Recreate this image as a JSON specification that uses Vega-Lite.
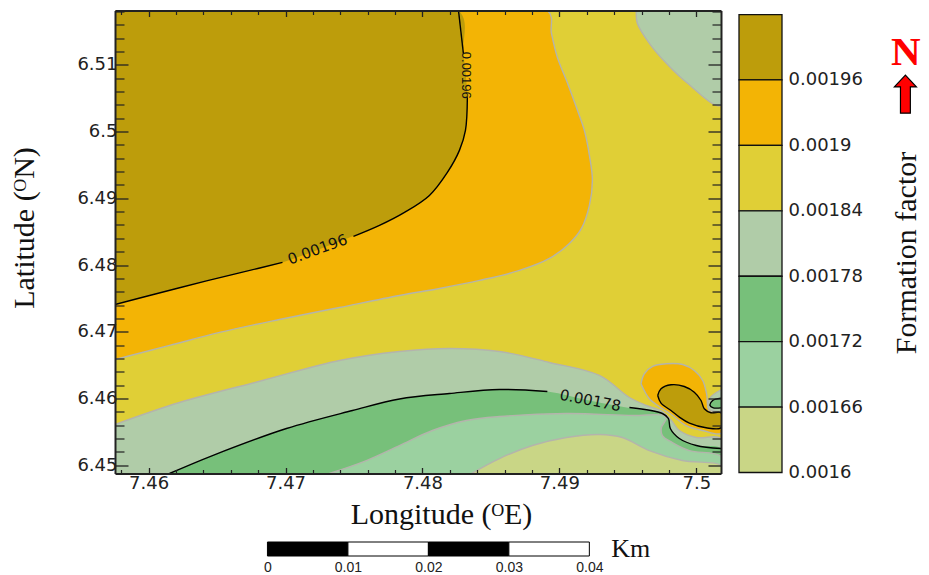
{
"$schema":"https://vega.github.io/schema/vega-lite/v6.json",
"background":"white",
"padding":{"left":9,"top":9.5,"right":0,"bottom":0},
"columns":2,
"align":"each",
"spacing":{"column":16,"row":6.5},
"resolve":{"scale":{"fill":"independent","stroke":"independent"}},
"config":{"view":{"stroke":null}},
"datasets":{
"regions":[
{"band":"0.00184","part":"base","contour":"none","seq":1,"lon":7.45755,"lat":6.51814},
{"band":"0.00184","part":"base","contour":"none","seq":2,"lon":7.5018,"lat":6.51814},
{"band":"0.00184","part":"base","contour":"none","seq":3,"lon":7.5018,"lat":6.44876},
{"band":"0.00184","part":"base","contour":"none","seq":4,"lon":7.45755,"lat":6.44876},
{"band":"0.0019","part":"orangeMain","contour":"gray","seq":1,"lon":7.45755,"lat":6.51814},
{"band":"0.0019","part":"orangeMain","contour":"gray","seq":2,"lon":7.48912,"lat":6.51814},
{"band":"0.0019","part":"orangeMain","contour":"gray","seq":3,"lon":7.48942,"lat":6.51472},
{"band":"0.0019","part":"orangeMain","contour":"gray","seq":4,"lon":7.48985,"lat":6.51112},
{"band":"0.0019","part":"orangeMain","contour":"gray","seq":5,"lon":7.49051,"lat":6.50768},
{"band":"0.0019","part":"orangeMain","contour":"gray","seq":6,"lon":7.49124,"lat":6.50363},
{"band":"0.0019","part":"orangeMain","contour":"gray","seq":7,"lon":7.49182,"lat":6.50018},
{"band":"0.0019","part":"orangeMain","contour":"gray","seq":8,"lon":7.49219,"lat":6.49643},
{"band":"0.0019","part":"orangeMain","contour":"gray","seq":9,"lon":7.49241,"lat":6.49268},
{"band":"0.0019","part":"orangeMain","contour":"gray","seq":10,"lon":7.49219,"lat":6.48894},
{"band":"0.0019","part":"orangeMain","contour":"gray","seq":11,"lon":7.49161,"lat":6.48549},
{"band":"0.0019","part":"orangeMain","contour":"gray","seq":12,"lon":7.49073,"lat":6.48324},
{"band":"0.0019","part":"orangeMain","contour":"gray","seq":13,"lon":7.48927,"lat":6.48099},
{"band":"0.0019","part":"orangeMain","contour":"gray","seq":14,"lon":7.48708,"lat":6.47919},
{"band":"0.0019","part":"orangeMain","contour":"gray","seq":15,"lon":7.48416,"lat":6.47769},
{"band":"0.0019","part":"orangeMain","contour":"gray","seq":16,"lon":7.48124,"lat":6.47649},
{"band":"0.0019","part":"orangeMain","contour":"gray","seq":17,"lon":7.47832,"lat":6.47544},
{"band":"0.0019","part":"orangeMain","contour":"gray","seq":18,"lon":7.47394,"lat":6.47364},
{"band":"0.0019","part":"orangeMain","contour":"gray","seq":19,"lon":7.46956,"lat":6.47184},
{"band":"0.0019","part":"orangeMain","contour":"gray","seq":20,"lon":7.46518,"lat":6.4699},
{"band":"0.0019","part":"orangeMain","contour":"gray","seq":21,"lon":7.46153,"lat":6.46795},
{"band":"0.0019","part":"orangeMain","contour":"gray","seq":22,"lon":7.45755,"lat":6.46585},
{"band":"0.00196","part":"oliveMain","contour":"none","seq":1,"lon":7.45755,"lat":6.51814},
{"band":"0.00196","part":"oliveMain","contour":"none","seq":2,"lon":7.48263,"lat":6.51814},
{"band":"0.00196","part":"oliveMain","contour":"none","seq":3,"lon":7.48299,"lat":6.51172},
{"band":"0.00196","part":"oliveMain","contour":"none","seq":4,"lon":7.48328,"lat":6.50513},
{"band":"0.00196","part":"oliveMain","contour":"none","seq":5,"lon":7.48314,"lat":6.50018},
{"band":"0.00196","part":"oliveMain","contour":"none","seq":6,"lon":7.4827,"lat":6.49718},
{"band":"0.00196","part":"oliveMain","contour":"none","seq":7,"lon":7.48182,"lat":6.49388},
{"band":"0.00196","part":"oliveMain","contour":"none","seq":8,"lon":7.48051,"lat":6.49043},
{"band":"0.00196","part":"oliveMain","contour":"none","seq":9,"lon":7.47869,"lat":6.48789},
{"band":"0.00196","part":"oliveMain","contour":"none","seq":10,"lon":7.47686,"lat":6.48594},
{"band":"0.00196","part":"oliveMain","contour":"none","seq":11,"lon":7.47467,"lat":6.48414},
{"band":"0.00196","part":"oliveMain","contour":"none","seq":12,"lon":7.46978,"lat":6.48039},
{"band":"0.00196","part":"oliveMain","contour":"none","seq":13,"lon":7.46664,"lat":6.47882},
{"band":"0.00196","part":"oliveMain","contour":"none","seq":14,"lon":7.46423,"lat":6.47762},
{"band":"0.00196","part":"oliveMain","contour":"none","seq":15,"lon":7.46007,"lat":6.47544},
{"band":"0.00196","part":"oliveMain","contour":"none","seq":16,"lon":7.45755,"lat":6.47409},
{"band":"0.00178","part":"sageCorner","contour":"gray","seq":1,"lon":7.49562,"lat":6.51814},
{"band":"0.00178","part":"sageCorner","contour":"gray","seq":2,"lon":7.49569,"lat":6.51622},
{"band":"0.00178","part":"sageCorner","contour":"gray","seq":3,"lon":7.49657,"lat":6.51322},
{"band":"0.00178","part":"sageCorner","contour":"gray","seq":4,"lon":7.49781,"lat":6.51022},
{"band":"0.00178","part":"sageCorner","contour":"gray","seq":5,"lon":7.49927,"lat":6.50738},
{"band":"0.00178","part":"sageCorner","contour":"gray","seq":6,"lon":7.5018,"lat":6.50393},
{"band":"0.00178","part":"sageCorner","contour":"gray","seq":7,"lon":7.5018,"lat":6.51814},
{"band":"0.00178","part":"sageSouth","contour":"gray","seq":1,"lon":7.45755,"lat":6.4561},
{"band":"0.00178","part":"sageSouth","contour":"gray","seq":2,"lon":7.46226,"lat":6.4594},
{"band":"0.00178","part":"sageSouth","contour":"gray","seq":3,"lon":7.46832,"lat":6.4627},
{"band":"0.00178","part":"sageSouth","contour":"gray","seq":4,"lon":7.47394,"lat":6.4657},
{"band":"0.00178","part":"sageSouth","contour":"gray","seq":5,"lon":7.47832,"lat":6.46705},
{"band":"0.00178","part":"sageSouth","contour":"gray","seq":6,"lon":7.48197,"lat":6.4675},
{"band":"0.00178","part":"sageSouth","contour":"gray","seq":7,"lon":7.48562,"lat":6.46705},
{"band":"0.00178","part":"sageSouth","contour":"gray","seq":8,"lon":7.48927,"lat":6.4654},
{"band":"0.00178","part":"sageSouth","contour":"gray","seq":9,"lon":7.49292,"lat":6.46345},
{"band":"0.00178","part":"sageSouth","contour":"gray","seq":10,"lon":7.49511,"lat":6.46015},
{"band":"0.00178","part":"sageSouth","contour":"gray","seq":11,"lon":7.49635,"lat":6.45895},
{"band":"0.00178","part":"sageSouth","contour":"gray","seq":12,"lon":7.49752,"lat":6.45805},
{"band":"0.00178","part":"sageSouth","contour":"gray","seq":13,"lon":7.49818,"lat":6.4567},
{"band":"0.00178","part":"sageSouth","contour":"gray","seq":14,"lon":7.49876,"lat":6.4552},
{"band":"0.00178","part":"sageSouth","contour":"gray","seq":15,"lon":7.5,"lat":6.45415},
{"band":"0.00178","part":"sageSouth","contour":"gray","seq":16,"lon":7.5018,"lat":6.454},
{"band":"0.00178","part":"sageSouth","contour":"gray","seq":17,"lon":7.5018,"lat":6.44876},
{"band":"0.00178","part":"sageSouth","contour":"gray","seq":18,"lon":7.45755,"lat":6.44876},
{"band":"0.00172","part":"greenSouth","contour":"none","seq":1,"lon":7.46153,"lat":6.44876},
{"band":"0.00172","part":"greenSouth","contour":"none","seq":2,"lon":7.46467,"lat":6.45145},
{"band":"0.00172","part":"greenSouth","contour":"none","seq":3,"lon":7.47007,"lat":6.4555},
{"band":"0.00172","part":"greenSouth","contour":"none","seq":4,"lon":7.47489,"lat":6.4582},
{"band":"0.00172","part":"greenSouth","contour":"none","seq":5,"lon":7.47832,"lat":6.45993},
{"band":"0.00172","part":"greenSouth","contour":"none","seq":6,"lon":7.48197,"lat":6.46075},
{"band":"0.00172","part":"greenSouth","contour":"none","seq":7,"lon":7.48562,"lat":6.46135},
{"band":"0.00172","part":"greenSouth","contour":"none","seq":8,"lon":7.48912,"lat":6.46105},
{"band":"0.00172","part":"greenSouth","contour":"none","seq":9,"lon":7.49219,"lat":6.4597},
{"band":"0.00172","part":"greenSouth","contour":"none","seq":10,"lon":7.49533,"lat":6.4585},
{"band":"0.00172","part":"greenSouth","contour":"none","seq":11,"lon":7.49752,"lat":6.45775},
{"band":"0.00172","part":"greenSouth","contour":"none","seq":12,"lon":7.49796,"lat":6.457},
{"band":"0.00172","part":"greenSouth","contour":"none","seq":13,"lon":7.4981,"lat":6.4555},
{"band":"0.00172","part":"greenSouth","contour":"none","seq":14,"lon":7.49876,"lat":6.454},
{"band":"0.00172","part":"greenSouth","contour":"none","seq":15,"lon":7.5,"lat":6.45295},
{"band":"0.00172","part":"greenSouth","contour":"none","seq":16,"lon":7.5018,"lat":6.4525},
{"band":"0.00172","part":"greenSouth","contour":"none","seq":17,"lon":7.5018,"lat":6.44876},
{"band":"0.00166","part":"lightSouth","contour":"gray","seq":1,"lon":7.47321,"lat":6.44876},
{"band":"0.00166","part":"lightSouth","contour":"gray","seq":2,"lon":7.47591,"lat":6.4507},
{"band":"0.00166","part":"lightSouth","contour":"gray","seq":3,"lon":7.47832,"lat":6.45295},
{"band":"0.00166","part":"lightSouth","contour":"gray","seq":4,"lon":7.48073,"lat":6.4552},
{"band":"0.00166","part":"lightSouth","contour":"gray","seq":5,"lon":7.48321,"lat":6.4567},
{"band":"0.00166","part":"lightSouth","contour":"gray","seq":6,"lon":7.48562,"lat":6.4573},
{"band":"0.00166","part":"lightSouth","contour":"gray","seq":7,"lon":7.49051,"lat":6.45775},
{"band":"0.00166","part":"lightSouth","contour":"gray","seq":8,"lon":7.49533,"lat":6.45745},
{"band":"0.00166","part":"lightSouth","contour":"gray","seq":9,"lon":7.49766,"lat":6.45745},
{"band":"0.00166","part":"lightSouth","contour":"gray","seq":10,"lon":7.49781,"lat":6.457},
{"band":"0.00166","part":"lightSouth","contour":"gray","seq":11,"lon":7.49745,"lat":6.45565},
{"band":"0.00166","part":"lightSouth","contour":"gray","seq":12,"lon":7.49752,"lat":6.45445},
{"band":"0.00166","part":"lightSouth","contour":"gray","seq":13,"lon":7.49825,"lat":6.4534},
{"band":"0.00166","part":"lightSouth","contour":"gray","seq":14,"lon":7.49949,"lat":6.4522},
{"band":"0.00166","part":"lightSouth","contour":"gray","seq":15,"lon":7.5018,"lat":6.4513},
{"band":"0.00166","part":"lightSouth","contour":"gray","seq":16,"lon":7.5018,"lat":6.44876},
{"band":"0.0016","part":"paleSouth","contour":"gray","seq":1,"lon":7.48358,"lat":6.44876},
{"band":"0.0016","part":"paleSouth","contour":"gray","seq":2,"lon":7.48562,"lat":6.451},
{"band":"0.0016","part":"paleSouth","contour":"gray","seq":3,"lon":7.48803,"lat":6.45295},
{"band":"0.0016","part":"paleSouth","contour":"gray","seq":4,"lon":7.49051,"lat":6.45415},
{"band":"0.0016","part":"paleSouth","contour":"gray","seq":5,"lon":7.49292,"lat":6.4546},
{"band":"0.0016","part":"paleSouth","contour":"gray","seq":6,"lon":7.4946,"lat":6.45415},
{"band":"0.0016","part":"paleSouth","contour":"gray","seq":7,"lon":7.49657,"lat":6.4522},
{"band":"0.0016","part":"paleSouth","contour":"gray","seq":8,"lon":7.49898,"lat":6.4507},
{"band":"0.0016","part":"paleSouth","contour":"gray","seq":9,"lon":7.5018,"lat":6.44996},
{"band":"0.0016","part":"paleSouth","contour":"gray","seq":10,"lon":7.5018,"lat":6.44876},
{"band":"0.0019","part":"orangeBlob","contour":"gray","seq":1,"lon":7.49596,"lat":6.4622},
{"band":"0.0019","part":"orangeBlob","contour":"gray","seq":2,"lon":7.4962,"lat":6.4637},
{"band":"0.0019","part":"orangeBlob","contour":"gray","seq":3,"lon":7.49681,"lat":6.4648},
{"band":"0.0019","part":"orangeBlob","contour":"gray","seq":4,"lon":7.49779,"lat":6.4652},
{"band":"0.0019","part":"orangeBlob","contour":"gray","seq":5,"lon":7.499,"lat":6.4651},
{"band":"0.0019","part":"orangeBlob","contour":"gray","seq":6,"lon":7.49985,"lat":6.4642},
{"band":"0.0019","part":"orangeBlob","contour":"gray","seq":7,"lon":7.50046,"lat":6.4627},
{"band":"0.0019","part":"orangeBlob","contour":"gray","seq":8,"lon":7.50075,"lat":6.4607},
{"band":"0.0019","part":"orangeBlob","contour":"gray","seq":9,"lon":7.50095,"lat":6.4582},
{"band":"0.0019","part":"orangeBlob","contour":"gray","seq":10,"lon":7.5018,"lat":6.45795},
{"band":"0.0019","part":"orangeBlob","contour":"gray","seq":11,"lon":7.5018,"lat":6.4548},
{"band":"0.0019","part":"orangeBlob","contour":"gray","seq":12,"lon":7.50046,"lat":6.4552},
{"band":"0.0019","part":"orangeBlob","contour":"gray","seq":13,"lon":7.49925,"lat":6.45595},
{"band":"0.0019","part":"orangeBlob","contour":"gray","seq":14,"lon":7.49827,"lat":6.45745},
{"band":"0.0019","part":"orangeBlob","contour":"gray","seq":15,"lon":7.49754,"lat":6.45846},
{"band":"0.0019","part":"orangeBlob","contour":"gray","seq":16,"lon":7.49657,"lat":6.45996},
{"band":"0.0019","part":"orangeBlob","contour":"gray","seq":17,"lon":7.49596,"lat":6.4622},
{"band":"0.00178","part":"sageBlob","contour":"gray","seq":1,"lon":7.5018,"lat":6.4613},
{"band":"0.00178","part":"sageBlob","contour":"gray","seq":2,"lon":7.50095,"lat":6.45996},
{"band":"0.00178","part":"sageBlob","contour":"gray","seq":3,"lon":7.5009,"lat":6.45846},
{"band":"0.00178","part":"sageBlob","contour":"gray","seq":4,"lon":7.5018,"lat":6.45795},
{"band":"0.00172","part":"greenBlob","contour":"black","seq":1,"lon":7.5018,"lat":6.46005},
{"band":"0.00172","part":"greenBlob","contour":"black","seq":2,"lon":7.50119,"lat":6.4597},
{"band":"0.00172","part":"greenBlob","contour":"black","seq":3,"lon":7.501,"lat":6.45895},
{"band":"0.00172","part":"greenBlob","contour":"black","seq":4,"lon":7.50124,"lat":6.4586},
{"band":"0.00172","part":"greenBlob","contour":"black","seq":5,"lon":7.5018,"lat":6.4586},
{"band":"0.00196","part":"oliveBlob","contour":"black","seq":1,"lon":7.49718,"lat":6.46045},
{"band":"0.00196","part":"oliveBlob","contour":"black","seq":2,"lon":7.49742,"lat":6.46145},
{"band":"0.00196","part":"oliveBlob","contour":"black","seq":3,"lon":7.49815,"lat":6.46205},
{"band":"0.00196","part":"oliveBlob","contour":"black","seq":4,"lon":7.49912,"lat":6.4618},
{"band":"0.00196","part":"oliveBlob","contour":"black","seq":5,"lon":7.49985,"lat":6.46094},
{"band":"0.00196","part":"oliveBlob","contour":"black","seq":6,"lon":7.50034,"lat":6.4597},
{"band":"0.00196","part":"oliveBlob","contour":"black","seq":7,"lon":7.50058,"lat":6.45846},
{"band":"0.00196","part":"oliveBlob","contour":"black","seq":8,"lon":7.50107,"lat":6.45786},
{"band":"0.00196","part":"oliveBlob","contour":"black","seq":9,"lon":7.5018,"lat":6.45786},
{"band":"0.00196","part":"oliveBlob","contour":"black","seq":10,"lon":7.5018,"lat":6.45561},
{"band":"0.00196","part":"oliveBlob","contour":"black","seq":11,"lon":7.50071,"lat":6.45561},
{"band":"0.00196","part":"oliveBlob","contour":"black","seq":12,"lon":7.49949,"lat":6.4563},
{"band":"0.00196","part":"oliveBlob","contour":"black","seq":13,"lon":7.49876,"lat":6.4572},
{"band":"0.00196","part":"oliveBlob","contour":"black","seq":14,"lon":7.49815,"lat":6.4582},
{"band":"0.00196","part":"oliveBlob","contour":"black","seq":15,"lon":7.49742,"lat":6.4593},
{"band":"0.00196","part":"oliveBlob","contour":"black","seq":16,"lon":7.49718,"lat":6.46045}
],
"line196":[
{"seg":"a","seq":1,"lon":7.48263,"lat":6.51814},
{"seg":"a","seq":2,"lon":7.48299,"lat":6.51172},
{"seg":"b","seq":1,"lon":7.48328,"lat":6.50513},
{"seg":"b","seq":2,"lon":7.48314,"lat":6.50018},
{"seg":"b","seq":3,"lon":7.4827,"lat":6.49718},
{"seg":"b","seq":4,"lon":7.48182,"lat":6.49388},
{"seg":"b","seq":5,"lon":7.48051,"lat":6.49043},
{"seg":"b","seq":6,"lon":7.47869,"lat":6.48789},
{"seg":"b","seq":7,"lon":7.47686,"lat":6.48594},
{"seg":"b","seq":8,"lon":7.47496,"lat":6.48429},
{"seg":"c","seq":1,"lon":7.46978,"lat":6.48039},
{"seg":"c","seq":2,"lon":7.46664,"lat":6.47882},
{"seg":"c","seq":3,"lon":7.46423,"lat":6.47762},
{"seg":"c","seq":4,"lon":7.46007,"lat":6.47544},
{"seg":"c","seq":5,"lon":7.45755,"lat":6.47409}
],
"line178":[
{"seg":"a","seq":1,"lon":7.46153,"lat":6.44876},
{"seg":"a","seq":2,"lon":7.46467,"lat":6.45145},
{"seg":"a","seq":3,"lon":7.47007,"lat":6.4555},
{"seg":"a","seq":4,"lon":7.47489,"lat":6.4582},
{"seg":"a","seq":5,"lon":7.47832,"lat":6.45993},
{"seg":"a","seq":6,"lon":7.48197,"lat":6.46075},
{"seg":"a","seq":7,"lon":7.48562,"lat":6.46135},
{"seg":"a","seq":8,"lon":7.48912,"lat":6.46105},
{"seg":"b","seq":1,"lon":7.49511,"lat":6.45865},
{"seg":"b","seq":2,"lon":7.49752,"lat":6.45775},
{"seg":"b","seq":3,"lon":7.49796,"lat":6.457},
{"seg":"b","seq":4,"lon":7.4981,"lat":6.4555},
{"seg":"b","seq":5,"lon":7.49876,"lat":6.454},
{"seg":"b","seq":6,"lon":7.5,"lat":6.45295},
{"seg":"b","seq":7,"lon":7.5018,"lat":6.4525}
],
"bands":[
{"band":"0.00196","lower":0.00196,"upper":0.00202},
{"band":"0.0019","lower":0.0019,"upper":0.00196},
{"band":"0.00184","lower":0.00184,"upper":0.0019},
{"band":"0.00178","lower":0.00178,"upper":0.00184},
{"band":"0.00172","lower":0.00172,"upper":0.00178},
{"band":"0.00166","lower":0.00166,"upper":0.00172},
{"band":"0.0016","lower":0.0016,"upper":0.00166}
]
},
"concat":[
{
"width":606,"height":463,
"resolve":{"axis":{"x":"independent","y":"independent"}},
"layer":[
{"data":{"name":"regions"},
"mark":{"type":"line","strokeWidth":1.4,"clip":true,"interpolate":"catmull-rom"},
"encoding":{
"x":{"field":"lon","type":"quantitative","scale":{"domain":[7.45755,7.5018],"nice":false,"zero":false},
"axis":{"orient":"bottom","values":[7.46,7.47,7.48,7.49,7.5],"format":".3~f","zindex":1,"grid":false,"tickSize":-6,"tickColor":"#222","tickWidth":1.3,"domainColor":"#222","domainWidth":2,"labelFont":"DejaVu Sans","labelFontSize":18,"labelColor":"#222","labelPadding":7,"title":"Longitude (ᴼE)","titleFont":"Liberation Serif","titleFontSize":30,"titleFontWeight":"normal","titleColor":"#111","titleX":326,"titleY":26}},
"y":{"field":"lat","type":"quantitative","scale":{"domain":[6.44876,6.51814],"nice":false,"zero":false},
"axis":{"orient":"left","values":[6.45,6.46,6.47,6.48,6.49,6.5,6.51],"format":".3~f","zindex":1,"grid":false,"tickSize":-13,"tickColor":"#222","tickWidth":1.3,"domainColor":"#222","domainWidth":2,"labelFont":"DejaVu Sans","labelFontSize":18,"labelColor":"#222","labelPadding":11,"title":"Latitude (ᴼN)","titleFont":"Liberation Serif","titleFontSize":30,"titleFontWeight":"normal","titleColor":"#111","titleX":-76,"titleY":217}},
"order":{"field":"seq","type":"quantitative"},
"detail":{"field":"part"},
"fill":{"field":"band","type":"nominal","legend":null,"scale":{"domain":["0.00196","0.0019","0.00184","0.00178","0.00172","0.00166","0.0016"],"range":["#BD9D0B","#F3B405","#E0CF36","#B0CCA8","#77C07A","#9BD1A0","#C9D686"]}},
"stroke":{"field":"contour","type":"nominal","legend":null,"scale":{"domain":["gray","black","none"],"range":["#B4B4AC","#000000","transparent"]}}
}},
{"data":{"name":"line196"},
"mark":{"type":"line","stroke":"#000","strokeWidth":1.4,"clip":true,"interpolate":"catmull-rom"},
"encoding":{
"x":{"field":"lon","type":"quantitative","scale":{"domain":[7.45755,7.5018],"nice":false,"zero":false},
"axis":{"orient":"bottom","values":[7.458,7.462,7.464,7.466,7.468,7.472,7.474,7.476,7.478,7.482,7.484,7.486,7.488,7.492,7.494,7.496,7.498],"labels":false,"domain":false,"grid":false,"zindex":1,"tickSize":-4,"tickColor":"#222","tickWidth":1.2,"title":null}},
"y":{"field":"lat","type":"quantitative","scale":{"domain":[6.44876,6.51814],"nice":false,"zero":false},
"axis":{"orient":"left","values":[6.452,6.454,6.456,6.458,6.462,6.464,6.466,6.468,6.472,6.474,6.476,6.478,6.482,6.484,6.486,6.488,6.492,6.494,6.496,6.498,6.502,6.504,6.506,6.508,6.512,6.514,6.516,6.518],"labels":false,"domain":false,"grid":false,"zindex":1,"tickSize":-9,"tickColor":"#222","tickWidth":1.2,"title":null}},
"order":{"field":"seq","type":"quantitative"},
"detail":{"field":"seg"}
}},
{"data":{"name":"line178"},
"mark":{"type":"line","stroke":"#000","strokeWidth":1.4,"clip":true,"interpolate":"catmull-rom"},
"encoding":{
"x":{"field":"lon","type":"quantitative","scale":{"domain":[7.45755,7.5018],"nice":false,"zero":false},
"axis":{"orient":"top","values":[7.46,7.47,7.48,7.49,7.5],"labels":false,"grid":false,"zindex":1,"tickSize":-6,"tickColor":"#222","tickWidth":1.3,"domainColor":"#222","domainWidth":2,"title":null}},
"y":{"field":"lat","type":"quantitative","scale":{"domain":[6.44876,6.51814],"nice":false,"zero":false},
"axis":{"orient":"right","values":[6.45,6.46,6.47,6.48,6.49,6.5,6.51],"labels":false,"grid":false,"zindex":1,"tickSize":-13,"tickColor":"#222","tickWidth":1.3,"domainColor":"#222","domainWidth":2,"title":null}},
"order":{"field":"seq","type":"quantitative"},
"detail":{"field":"seg"}
}},
{"data":{"values":[{"label":"0.00196","lon":7.47234,"lat":6.48234}]},
"mark":{"type":"text","font":"DejaVu Sans","fontSize":15,"angle":340,"color":"#111"},
"encoding":{
"x":{"field":"lon","type":"quantitative","scale":{"domain":[7.45755,7.5018],"nice":false,"zero":false},
"axis":{"orient":"top","values":[7.458,7.462,7.464,7.466,7.468,7.472,7.474,7.476,7.478,7.482,7.484,7.486,7.488,7.492,7.494,7.496,7.498],"labels":false,"domain":false,"grid":false,"zindex":1,"tickSize":-4,"tickColor":"#222","tickWidth":1.2,"title":null}},
"y":{"field":"lat","type":"quantitative","scale":{"domain":[6.44876,6.51814],"nice":false,"zero":false},
"axis":{"orient":"right","values":[6.452,6.454,6.456,6.458,6.462,6.464,6.466,6.468,6.472,6.474,6.476,6.478,6.482,6.484,6.486,6.488,6.492,6.494,6.496,6.498,6.502,6.504,6.506,6.508,6.512,6.514,6.516,6.518],"labels":false,"domain":false,"grid":false,"zindex":1,"tickSize":-9,"tickColor":"#222","tickWidth":1.2,"title":null}},
"text":{"field":"label"}
}},
{"data":{"values":[{"label":"0.00196","lon":7.48321,"lat":6.50843}]},
"mark":{"type":"text","font":"Liberation Sans","fontSize":13,"angle":90,"color":"#111"},
"encoding":{
"x":{"field":"lon","type":"quantitative","scale":{"domain":[7.45755,7.5018],"nice":false,"zero":false},"axis":null},
"y":{"field":"lat","type":"quantitative","scale":{"domain":[6.44876,6.51814],"nice":false,"zero":false},"axis":null},
"text":{"field":"label"}
}},
{"data":{"values":[{"label":"0.00178","lon":7.49226,"lat":6.4597}]},
"mark":{"type":"text","font":"DejaVu Sans","fontSize":15,"angle":11,"color":"#111"},
"encoding":{
"x":{"field":"lon","type":"quantitative","scale":{"domain":[7.45755,7.5018],"nice":false,"zero":false},"axis":null},
"y":{"field":"lat","type":"quantitative","scale":{"domain":[6.44876,6.51814],"nice":false,"zero":false},"axis":null},
"text":{"field":"label"}
}}
]
},
{
"width":43,"height":463,
"layer":[
{"data":{"name":"bands"},
"mark":{"type":"rect","stroke":"#111","strokeWidth":1.3},
"encoding":{
"y":{"field":"lower","type":"quantitative","scale":{"domain":[0.00159908,0.0020237],"nice":false,"zero":false},
"axis":{"orient":"right","values":[0.0016,0.00166,0.00172,0.00178,0.00184,0.0019,0.00196],"format":".5~f","domain":false,"ticks":false,"grid":false,"labelFont":"DejaVu Sans","labelFontSize":18,"labelColor":"#222","labelPadding":6,"title":"Formation factor","titleFont":"Liberation Serif","titleFontSize":30,"titleFontWeight":"normal","titleColor":"#111","titleAngle":270,"titleX":139,"titleY":242}},
"y2":{"field":"upper"},
"fill":{"field":"band","type":"nominal","legend":null,"scale":{"domain":["0.00196","0.0019","0.00184","0.00178","0.00172","0.00166","0.0016"],"range":["#BD9D0B","#F3B405","#E0CF36","#B0CCA8","#77C07A","#9BD1A0","#C9D686"]}}
}},
{"data":{"values":[{"glyph":"N","px":3.88,"val":0.001985}]},
"mark":{"type":"text","font":"Liberation Serif","fontWeight":"bold","fontSize":41,"color":"#FF0000","baseline":"middle"},
"encoding":{
"x":{"field":"px","type":"quantitative","scale":{"domain":[0,1],"nice":false,"zero":false},"axis":null},
"y":{"field":"val","type":"quantitative"},
"text":{"field":"glyph"}
}},
{"data":{"values":[{"px":3.87,"val":0.001947}]},
"mark":{"type":"point","filled":true,"fill":"#FF0000","stroke":"#000","strokeWidth":1.2,"opacity":1,"size":1444,"shape":"M0,-1 L0.58,-0.38 L0.26,-0.38 L0.26,1 L-0.26,1 L-0.26,-0.38 L-0.58,-0.38 Z"},
"encoding":{
"x":{"field":"px","type":"quantitative","scale":{"domain":[0,1],"nice":false,"zero":false},"axis":null},
"y":{"field":"val","type":"quantitative"}
}}
]
},
{
"width":606,"height":14,
"layer":[
{"data":{"values":[
{"start":0,"end":0.01,"tone":"black"},
{"start":0.01,"end":0.02,"tone":"white"},
{"start":0.02,"end":0.03,"tone":"black"},
{"start":0.03,"end":0.04,"tone":"white"}]},
"mark":{"type":"rect","stroke":"#000","strokeWidth":1},
"encoding":{
"x":{"field":"start","type":"quantitative","scale":{"domain":[-0.018944,0.05636],"nice":false,"zero":false},
"axis":{"orient":"bottom","values":[0,0.01,0.02,0.03,0.04],"format":".2~f","domain":false,"ticks":false,"grid":false,"labelFont":"Liberation Sans","labelFontSize":14,"labelColor":"#222","labelPadding":4,"title":null}},
"x2":{"field":"end"},
"fill":{"field":"tone","type":"nominal","legend":null,"scale":{"domain":["black","white"],"range":["#000000","#FFFFFF"]}}
}},
{"data":{"values":[{"unit":"Km","pos":0.04273}]},
"mark":{"type":"text","font":"Liberation Serif","fontSize":26,"align":"left","color":"#111","baseline":"middle"},
"encoding":{
"x":{"field":"pos","type":"quantitative"},
"text":{"field":"unit"}
}}
]
}
]
}
